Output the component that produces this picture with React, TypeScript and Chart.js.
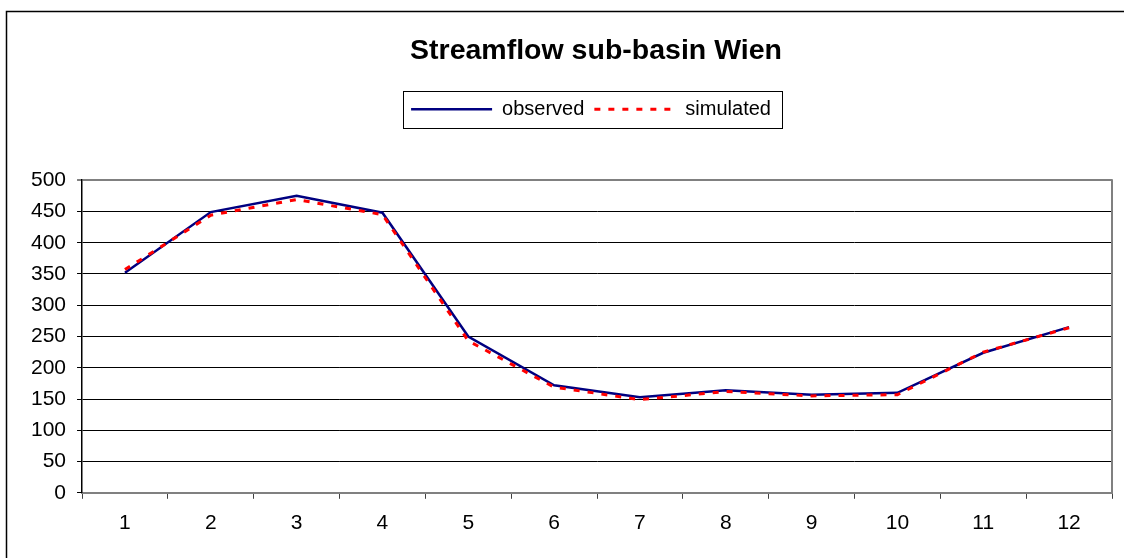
import { useEffect, useRef } from 'react';
import { Chart, registerables, layouts } from 'chart.js';

Chart.register(...registerables);

const categories = ['1', '2', '3', '4', '5', '6', '7', '8', '9', '10', '11', '12'];
const observed = [352, 449, 475, 448, 250, 172, 153, 164, 157, 160, 224, 265];
const simulated = [357, 444, 469, 445, 243, 169, 149, 162, 155, 157, 225, 264];
const yMin = 0;
const yMax = 500;
const yStep = 50;

const titleText = 'Streamflow sub-basin Wien';
const FONT = "'Liberation Sans', Arial, sans-serif";
const LEGEND_LINE = 81;
const LEGEND_SHIFT = -6;
const TITLE_SHIFT = -1;

const spacerPlugin = {
  id: 'legendSpacer',
  start(chart: any) {
    const box: any = {
      position: 'top',
      weight: 500,
      fullSize: false,
      options: {},
      left: 0, top: 0, right: 0, bottom: 0, width: 0, height: 0,
      isHorizontal() { return true; },
      update(maxWidth: number) {
        this.width = maxWidth;
        this.height = 51;
      },
      draw() {},
    };
    layouts.addBox(chart, box);
  },
  afterLayout(chart: any) {
    if (chart.legend) {
      chart.legend.left += LEGEND_SHIFT;
      chart.legend.right += LEGEND_SHIFT;
    }
    if (chart.titleBlock) {
      chart.titleBlock.left += TITLE_SHIFT;
      chart.titleBlock.right += TITLE_SHIFT;
    }
  },
};

const decorPlugin = {
  id: 'decor',
  afterDraw(chart: any) {
    const ctx = chart.ctx;
    const lg = chart.legend;
    const area = chart.chartArea;
    ctx.save();
    if (lg && lg.legendHitBoxes && lg.legendHitBoxes.length) {
      let minX = Infinity, maxX = -Infinity, minY = Infinity, maxY = -Infinity;
      lg.legendHitBoxes.forEach((hb: any, i: number) => {
        const item = lg.legendItems[i];
        const ds: any = chart.data.datasets[item.datasetIndex];
        const y = hb.top + hb.height / 2;
        ctx.beginPath();
        ctx.strokeStyle = ds.borderColor;
        ctx.lineWidth = ds.borderWidth;
        ctx.setLineDash(ds.borderDash || []);
        ctx.moveTo(hb.left, y);
        ctx.lineTo(hb.left + LEGEND_LINE, y);
        ctx.stroke();
        minX = Math.min(minX, hb.left);
        maxX = Math.max(maxX, hb.left + hb.width);
        minY = Math.min(minY, hb.top);
        maxY = Math.max(maxY, hb.top + hb.height);
      });
      ctx.setLineDash([]);
      ctx.strokeStyle = '#000';
      ctx.lineWidth = 1;
      const x0 = Math.round(minX - 8) + 0.5;
      const y0 = Math.round(minY - 8) + 0.5;
      const x1 = Math.round(maxX + 11) + 0.5;
      const y1 = Math.round(maxY + 9) + 0.5;
      ctx.strokeRect(x0, y0, x1 - x0, y1 - y0);
    }
    ctx.setLineDash([]);
    ctx.strokeStyle = '#808080';
    ctx.lineWidth = 2;
    ctx.beginPath();
    ctx.moveTo(area.right, area.top - 1);
    ctx.lineTo(area.right, area.bottom);
    ctx.stroke();
    ctx.strokeStyle = '#000';
    ctx.lineWidth = 1.5;
    ctx.strokeRect(6.5, 11.5, 1400, 800);
    ctx.restore();
  },
};

export default function App() {
  const ref = useRef<HTMLCanvasElement | null>(null);

  useEffect(() => {
    if (!ref.current) return;
    const chart = new Chart(ref.current, {
      type: 'line',
      data: {
        labels: categories,
        datasets: [
          {
            label: 'observed',
            data: observed,
            borderColor: '#000080',
            backgroundColor: '#000080',
            borderWidth: 2.5,
            pointRadius: 0,
            tension: 0,
            fill: false,
            order: 1,
          },
          {
            label: 'simulated',
            data: simulated,
            borderColor: '#ff0000',
            backgroundColor: '#ff0000',
            borderWidth: 3,
            borderDash: [6, 8],
            pointRadius: 0,
            tension: 0,
            fill: false,
            order: 0,
          },
        ],
      },
      options: {
        responsive: false,
        maintainAspectRatio: false,
        animation: false,
        layout: { padding: { left: 20, right: 12, top: 0, bottom: 10 } },
        plugins: {
          title: {
            display: true,
            text: titleText,
            fullSize: false,
            color: '#000',
            font: { family: FONT, size: 28.5, weight: 'bold' },
            padding: { top: 34, bottom: 21 },
          },
          legend: {
            display: true,
            position: 'top',
            fullSize: false,
            labels: {
              color: '#000',
              font: { family: FONT, size: 20 },
              boxWidth: LEGEND_LINE,
              boxHeight: 20,
              padding: 10,
              sort: (a: any, b: any) => a.datasetIndex - b.datasetIndex,
              generateLabels: (chart: any) => {
                const items = (Chart.defaults.plugins.legend.labels as any).generateLabels(chart);
                return items.map((it: any) => ({
                  ...it,
                  fillStyle: 'rgba(0,0,0,0)',
                  strokeStyle: 'rgba(0,0,0,0)',
                  lineWidth: 0,
                }));
              },
            },
          },
          tooltip: { enabled: false },
        },
        scales: {
          x: {
            type: 'category',
            offset: true,
            grid: {
              offset: true,
              drawOnChartArea: false,
              drawTicks: true,
              tickLength: 6,
              color: '#404040',
              lineWidth: 1,
            },
            border: { display: true, color: '#808080', width: 2 },
            ticks: {
              color: '#000',
              font: { family: FONT, size: 21 },
              padding: 12,
              maxRotation: 0,
              autoSkip: false,
            },
          },
          y: {
            min: yMin,
            max: yMax,
            grid: {
              color: (c: any) => (c.tick && c.tick.value === yMax ? '#808080' : '#000'),
              lineWidth: (c: any) => (c.tick && c.tick.value === yMax ? 2 : 1),
              tickLength: 5,
              drawTicks: true,
            },
            border: { display: true, color: '#000', width: 1.5 },
            ticks: {
              stepSize: yStep,
              color: '#000',
              font: { family: FONT, size: 21 },
              padding: 11,
            },
          },
        },
      },
      plugins: [spacerPlugin, decorPlugin],
    } as any);
    return () => chart.destroy();
  }, []);

  return (
    <div style={{ position: 'absolute', left: 0, top: 0, width: 1124, height: 558, background: '#fff' }}>
      <canvas ref={ref} width={1124} height={558} style={{ display: 'block' }} />
    </div>
  );
}
